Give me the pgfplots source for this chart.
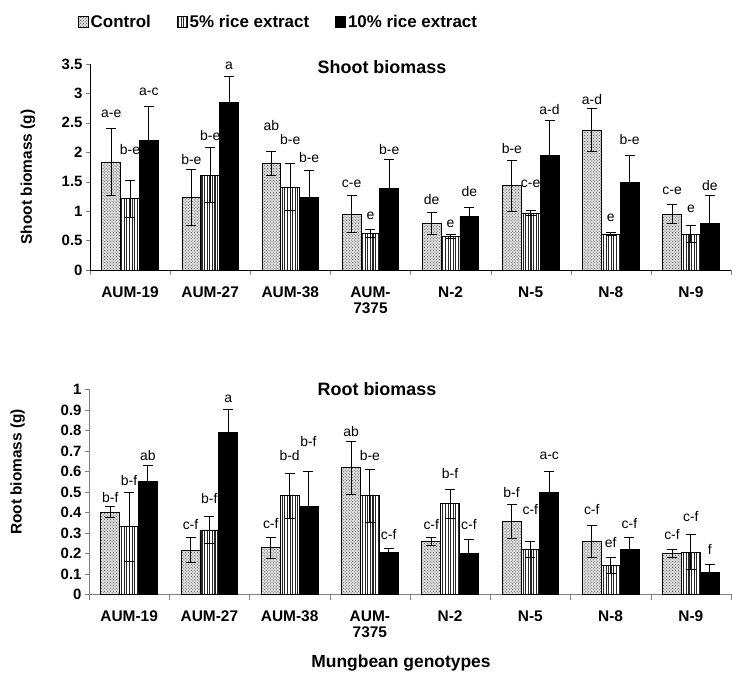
\documentclass[border=0pt]{standalone}
\usepackage{fontspec}
\setmainfont{Liberation Sans}
\usepackage{pgfplots}
\usepackage{pgfplotstable}
\pgfplotsset{compat=1.18}
\usetikzlibrary{patterns,patterns.meta}

% g = genotype index, c/f/t = control, 5%, 10% means, *e = error
\pgfplotstableread{
g c ce f fe t te
0 1.83 0.57 1.21 0.31 2.20 0.58
1 1.23 0.47 1.61 0.47 2.84 0.45
2 1.81 0.20 1.41 0.40 1.23 0.46
3 0.95 0.31 0.62 0.06 1.38 0.50
4 0.79 0.18 0.57 0.04 0.91 0.16
5 1.43 0.43 0.97 0.04 1.95 0.59
6 2.38 0.36 0.61 0.02 1.48 0.46
7 0.95 0.16 0.61 0.14 0.79 0.48
}\shootdat

\pgfplotstableread{
g c ce f fe t te
0 0.402 0.026 0.330 0.168 0.551 0.077
1 0.216 0.060 0.315 0.067 0.792 0.108
2 0.228 0.050 0.481 0.108 0.428 0.170
3 0.618 0.128 0.481 0.129 0.207 0.018
4 0.259 0.019 0.442 0.069 0.200 0.070
5 0.356 0.085 0.220 0.039 0.499 0.099
6 0.259 0.078 0.141 0.038 0.220 0.058
7 0.200 0.018 0.207 0.084 0.109 0.039
}\rootdat

% letter labels: s = series (-1 control, 0 5%, 1 10%)
\pgfplotstableread{
g s y lab
0 -1 2.65 a-e
0 0 2.04 b-e
0 1 3.03 a-c
1 -1 1.87 b-e
1 0 2.28 b-e
1 1 3.47 a
2 -1 2.46 ab
2 0 2.22 b-e
2 1 1.91 b-e
3 -1 1.46 c-e
3 0 0.92 e
3 1 2.05 b-e
4 -1 1.19 de
4 0 0.78 e
4 1 1.33 de
5 -1 2.06 b-e
5 0 1.46 c-e
5 1 2.72 a-d
6 -1 2.89 a-d
6 0 0.89 e
6 1 2.22 b-e
7 -1 1.34 c-e
7 0 1.04 e
7 1 1.44 de
}\shootlab

\pgfplotstableread{
g s y lab
0 -1 0.473 b-f
0 0 0.558 b-f
0 1 0.676 ab
1 -1 0.343 c-f
1 0 0.470 b-f
1 1 0.953 a
2 -1 0.346 c-f
2 0 0.678 b-d
2 1 0.745 b-f
3 -1 0.797 ab
3 0 0.676 b-e
3 1 0.291 c-f
4 -1 0.343 c-f
4 0 0.589 b-f
4 1 0.343 c-f
5 -1 0.499 b-f
5 0 0.415 c-f
5 1 0.676 a-c
6 -1 0.415 c-f
6 0 0.252 ef
6 1 0.345 c-f
7 -1 0.291 c-f
7 0 0.379 c-f
7 1 0.220 f
}\rootlab

\tikzset{
  ctrl/.style={fill=gray!25, postaction={pattern=crosshatch dots, pattern color=gray!60!black}},
  five/.style={fill=white, postaction={pattern={Lines[angle=90,distance=2.6pt,line width=1.1pt]}, pattern color=black!85}},
  ten/.style={fill=black},
}

\pgfplotsset{
  bio/.style={
    scale only axis, clip=false,
    xmin=-0.5, xmax=7.5, ymin=0,
    axis x line=bottom, axis y line=left,
    axis line style={-},
    xtick={0,...,7},
    xticklabels={AUM-19, AUM-27, AUM-38, {AUM-\\7375}, N-2, N-5, N-8, N-9},
    major x tick style={draw=none},
    minor xtick={-0.5,0.5,...,7.5},
    tick align=outside,
    minor tick length=5bp, major tick length=4bp,
    /pgf/number format/assume math mode=true,
    xticklabel style={font=\bfseries\fontsize{15.5}{16}\selectfont, align=center, yshift=-9bp},
    yticklabel style={font=\bfseries\fontsize{15}{15}\selectfont},
    ylabel style={anchor=center, font=\bfseries\fontsize{15.5}{15.5}\selectfont},
    title style={anchor=center, font=\bfseries\fontsize{18}{18}\selectfont},
  },
  bars/.style={ybar, bar width=0.235, bar shift=0, draw=black, line width=0.8bp,
    error bars/y dir=both, error bars/y explicit,
    error bars/error mark=-,
    error bars/error bar style={black, line width=1bp, solid},
    error bars/error mark options={black, rotate=90, mark size=5bp, line width=1bp, solid}},
  labs/.style={only marks, mark=*, mark size=0pt, mark options={draw=none, fill=none},
    nodes near coords, point meta=explicit symbolic, forget plot,
    nodes near coords style={anchor=center, inner sep=0pt, text=black,
      font=\fontsize{14}{14}\selectfont}},
}

\begin{document}
\begin{tikzpicture}
\path[use as bounding box] (0,0) rectangle (732bp,678bp);

\begin{axis}[bio,
  at={(90bp,408bp)}, anchor=south west,
  width=641bp, height=206bp,
  ymax=3.5, ytick={0,0.5,1,1.5,2,2.5,3,3.5},
  ylabel={Shoot biomass (g)},
  ylabel style={at={(axis description cs:-0.097,0.451)}},
  title={Shoot biomass},
  title style={at={(axis description cs:0.4555,0.956)}},
  legend style={at={(axis description cs:0.294,1.204)}, anchor=center, draw=none,
    legend columns=3, font=\bfseries\fontsize{17}{17}\selectfont,
    /tikz/every even column/.append style={column sep=24bp}},
  legend image code/.code={\draw[#1, line width=0.8bp] (0bp,-5.5bp) rectangle (10bp,5.5bp);},
]
\addplot[bars, ctrl] table[x expr=\thisrow{g}-0.235, y=c, y error=ce] {\shootdat};
\addlegendentry{Control}
\addplot[bars, five] table[x=g, y=f, y error=fe] {\shootdat};
\addlegendentry{5\% rice extract}
\addplot[bars, ten] table[x expr=\thisrow{g}+0.235, y=t, y error=te] {\shootdat};
\addlegendentry{10\% rice extract}
\addplot[labs] table[x expr=\thisrow{g}+0.235*\thisrow{s}, y=y, meta=lab] {\shootlab};
\end{axis}

\begin{axis}[bio,
  at={(89bp,83.5bp)}, anchor=south west,
  width=642bp, height=205bp,
  axis line style={gray},
  ymax=1, ytick={0,0.1,0.2,0.3,0.4,0.5,0.6,0.7,0.8,0.9,1},
  ylabel={Root biomass (g)},
  ylabel style={at={(axis description cs:-0.111,0.598)}},
  title={Root biomass},
  title style={at={(axis description cs:0.4486,0.973)}},
  xlabel={Mungbean genotypes},
  xlabel style={at={(axis description cs:0.486,-0.334)}, anchor=center,
    font=\bfseries\fontsize{17.5}{17.5}\selectfont},
]
\addplot[bars, ctrl] table[x expr=\thisrow{g}-0.235, y=c, y error=ce] {\rootdat};
\addplot[bars, five] table[x=g, y=f, y error=fe] {\rootdat};
\addplot[bars, ten] table[x expr=\thisrow{g}+0.235, y=t, y error=te] {\rootdat};
\addplot[labs] table[x expr=\thisrow{g}+0.235*\thisrow{s}, y=y, meta=lab] {\rootlab};
\end{axis}
\end{tikzpicture}
\end{document}
